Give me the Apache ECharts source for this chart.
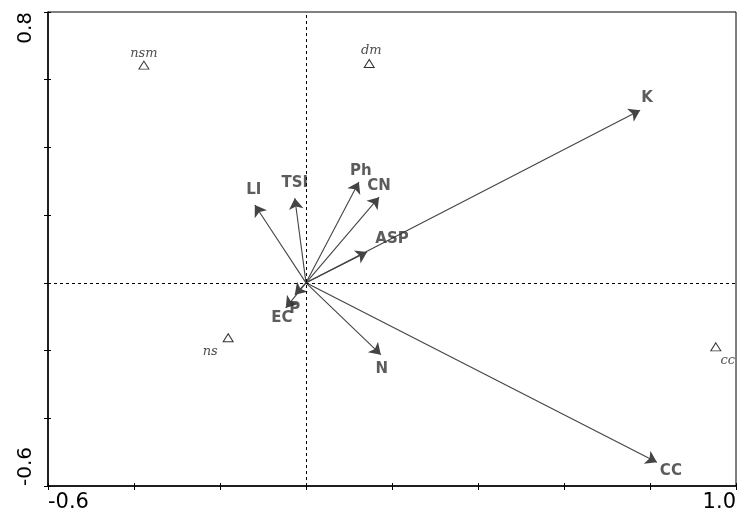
<!DOCTYPE html>
<html>
<head>
<meta charset="utf-8">
<title>CCA biplot</title>
<script src="https://cdn.jsdelivr.net/npm/echarts@6/dist/echarts.min.js"></script>
<style>
  html, body { margin: 0; padding: 0; background: #fff; }
  #chart { width: 740px; height: 513px; }
</style>
</head>
<body>
<div id="chart"></div>
<script>
// Environmental variables (biplot arrows): axis 1 and axis 2 scores
const envNames = ['K', 'CC', 'LI', 'TSI', 'Ph', 'CN', 'ASP', 'EC', 'P', 'N'];
const envAxis1 = [0.777, 0.816, -0.119, -0.026, 0.123, 0.170, 0.142, -0.047, -0.026, 0.174];
const envAxis2 = [0.510, -0.530, 0.230, 0.250, 0.298, 0.253, 0.091, -0.074, -0.035, -0.212];

// Sites (triangles): axis 1 and axis 2 scores
const siteNames = ['nsm', 'dm', 'ns', 'cc'];
const siteAxis1 = [-0.377, 0.147, -0.181, 0.953];
const siteAxis2 = [0.643, 0.648, -0.162, -0.189];

// Axis ranges
const axisMin = { x: -0.6, y: -0.6 };
const axisMax = { x: 1.0, y: 0.8 };
const tickStep = 0.2;

// Label placement next to each arrow tip (pixels)
const envLabelOffset = {
  K: [7, -12], CC: [14, 9], LI: [-1, -15], TSI: [0, -15], Ph: [2, -11],
  CN: [0, -11], ASP: [25, -13], EC: [-4, 10], P: [0, 14], N: [1, 14]
};
const siteLabelOffset = {
  nsm: [0, -12], dm: [2, -13], ns: [-18, 14], cc: [12, 14]
};

const chart = echarts.init(document.getElementById('chart'), null, { renderer: 'canvas' });

const isEnd = (v, lo, hi) => Math.abs(v - lo) < 1e-6 || Math.abs(v - hi) < 1e-6;

const arrowData = envNames.map((n, i) => ({
  name: n,
  coords: [[0, 0], [envAxis1[i], envAxis2[i]]]
}));

const envLabelData = envNames.map((n, i) => ({
  name: n,
  value: [envAxis1[i], envAxis2[i]],
  label: { offset: envLabelOffset[n] }
}));

const siteData = siteNames.map((n, i) => ({
  name: n,
  value: [siteAxis1[i], siteAxis2[i]],
  label: { offset: siteLabelOffset[n] }
}));

const tickLine = { color: '#000', width: 1 };

const option = {
  animation: false,
  backgroundColor: '#fff',
  grid: {
    left: 48, right: 4, top: 12, bottom: 26,
    show: true, borderColor: '#000', borderWidth: 1,
    containLabel: false
  },
  xAxis: [
    {
      type: 'value',
      min: axisMin.x, max: axisMax.x, interval: tickStep,
      axisLine: { show: true, onZero: false, lineStyle: { color: '#000', width: 1.5 } },
      axisTick: { show: true, length: 4, lineStyle: tickLine },
      splitLine: { show: false },
      axisLabel: {
        show: true, margin: 6,
        fontFamily: 'DejaVu Sans', fontSize: 21, color: '#000',
        alignMinLabel: 'left', alignMaxLabel: 'right',
        formatter: v => isEnd(v, axisMin.x, axisMax.x) ? v.toFixed(1) : ''
      }
    },
    {
      // inner half of the crossing tick marks
      type: 'value', position: 'bottom',
      min: axisMin.x, max: axisMax.x, interval: tickStep,
      axisLine: { show: false, onZero: false },
      axisTick: { show: true, inside: true, length: 3, lineStyle: tickLine },
      axisLabel: { show: false },
      splitLine: { show: false }
    }
  ],
  yAxis: [
    {
      type: 'value',
      min: axisMin.y, max: axisMax.y, interval: tickStep,
      axisLine: { show: true, onZero: false, lineStyle: { color: '#000', width: 1.5 } },
      axisTick: { show: true, length: 4, lineStyle: tickLine },
      splitLine: { show: false },
      axisLabel: {
        show: true, margin: 12, rotate: 90,
        fontFamily: 'DejaVu Sans', fontSize: 20, color: '#000',
        alignMinLabel: 'left', alignMaxLabel: 'right',
        formatter: v => isEnd(v, axisMin.y, axisMax.y) ? v.toFixed(1) : ''
      }
    },
    {
      type: 'value', position: 'left',
      min: axisMin.y, max: axisMax.y, interval: tickStep,
      axisLine: { show: false, onZero: false },
      axisTick: { show: true, inside: true, length: 3, lineStyle: tickLine },
      axisLabel: { show: false },
      splitLine: { show: false }
    }
  ],
  series: [
    {
      // dashed reference lines through the origin
      type: 'scatter',
      data: [],
      silent: true,
      markLine: {
        silent: true,
        symbol: 'none',
        label: { show: false },
        lineStyle: { color: '#000', type: [3, 3], width: 1 },
        data: [{ xAxis: 0 }, { yAxis: 0 }]
      }
    },
    {
      // biplot arrows from the origin
      type: 'lines',
      coordinateSystem: 'cartesian2d',
      symbol: ['none', 'arrow'],
      symbolSize: 11,
      lineStyle: { color: '#444', width: 1.1, opacity: 1, curveness: 0 },
      data: arrowData,
      z: 3
    },
    {
      // variable names at the arrow tips
      type: 'scatter',
      symbolSize: 0,
      data: envLabelData,
      label: {
        show: true, position: 'inside',
        formatter: p => p.name,
        fontFamily: 'DejaVu Sans', fontWeight: 'bold', fontSize: 15, color: '#333'
      },
      z: 4
    },
    {
      // site scores
      type: 'scatter',
      symbol: 'triangle',
      symbolSize: [10, 8],
      itemStyle: { color: '#fff', borderColor: '#000', borderWidth: 1 },
      data: siteData,
      label: {
        show: true, position: 'inside',
        formatter: p => p.name,
        fontFamily: 'DejaVu Serif', fontStyle: 'italic', fontSize: 13, color: '#222'
      },
      z: 4
    }
  ]
};

chart.setOption(option);
</script>
</body>
</html>
